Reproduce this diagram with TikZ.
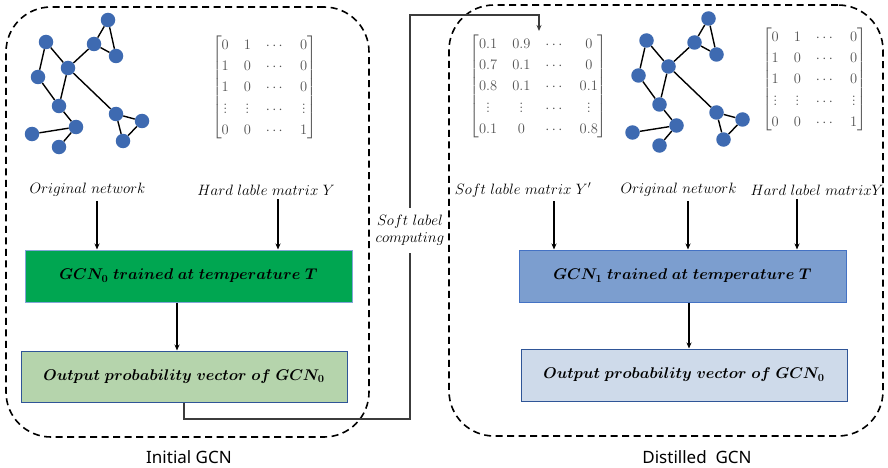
\RequirePackage{fix-cm}
\documentclass[tikz,border=0pt]{standalone}
\usepackage{amsmath}
\usepackage{bm}
\usepackage{fontspec}
\setsansfont{Noto Sans}
\usetikzlibrary{arrows.meta}

\definecolor{netblue}{RGB}{62,106,177}
\definecolor{gcngreen}{RGB}{0,166,81}
\definecolor{outgreen}{RGB}{181,212,172}
\definecolor{gcnblue}{RGB}{124,158,207}
\definecolor{outblue}{RGB}{206,218,234}
\definecolor{darkedge}{RGB}{47,85,151}
\definecolor{midedge}{RGB}{68,114,196}
\definecolor{lightedge}{RGB}{130,165,215}
\definecolor{linkgray}{RGB}{60,60,60}

\tikzset{
  vert/.style={circle, fill=netblue, draw=none, minimum size=14.5pt, inner sep=0pt},
  gedge/.style={line width=1.4pt, black},
  netgraph/.pic={
    \foreach \n/\x/\y in {a/46/42, b/108/20, c/94/44, d/116/56, e/68/68,
                          f/38/77, g/59/106, h/116/114, i/142/121, j/123/141,
                          k/76/127, l/32/134, m/59/147}
      \node[vert] (-\n) at (\x,\y) {};
    \foreach \p/\q in {a/f, a/e, e/c, c/b, b/d, c/d, e/g, f/g, g/k, k/l, k/m,
                       e/h, h/i, h/j, i/j}
      \draw[gedge] (-\p) -- (-\q);
  },
  group/.style={draw=black, line width=1.6pt, dash pattern=on 7pt off 4.5pt,
                rounded corners=45pt, inner sep=0pt},
  grouptitle/.style={font=\sffamily\fontsize{17}{20}\selectfont, inner sep=0pt},
  lab/.style={font=\fontsize{15}{17}\selectfont, inner sep=2pt},
  mat/.style={inner sep=0pt, text=black!68,
              font=\fontsize{14.5}{17.4}\selectfont\setlength\arraycolsep{7.5pt}\renewcommand\arraystretch{1.22}},
  box/.style={minimum width=327pt, minimum height=52pt, inner sep=0pt, line width=1pt,
              font=\fontsize{15.5}{18}\selectfont},
  arr/.style={line width=1.5pt, -{Stealth[length=6pt, width=5pt]}},
  link/.style={line width=1.1pt, linkgray},
}

\begin{document}
\begin{tikzpicture}[x=1pt, y=-1pt]
  \useasboundingbox (0,0) rectangle (888,468);

  % dashed containers and their titles
  \node[group, minimum width=363pt, minimum height=430pt] (initg) at (187.5,222) {};
  \node[group, minimum width=434pt, minimum height=431pt] (distg) at (666,220.5) {};
  \node[grouptitle] (initt) at (189,457) {Initial GCN};
  \node[grouptitle] (distt) at (697,457) {Distilled\ \ GCN};

  % networks
  \pic (gl) at (0,0) {netgraph};
  \pic (gr) at (600.5,-1.5) {netgraph};

  % label matrices
  \node[mat] (hardL) at (264.5,87.5) {$\begin{bmatrix}
      0 & 1 & \cdots & 0\\ 1 & 0 & \cdots & 0\\ 1 & 0 & \cdots & 0\\
      \vdots & \vdots & \cdots & \vdots\\ 0 & 0 & \cdots & 1\end{bmatrix}$};
  \node[mat] (hardR) at (814.5,79.5) {$\begin{bmatrix}
      0 & 1 & \cdots & 0\\ 1 & 0 & \cdots & 0\\ 1 & 0 & \cdots & 0\\
      \vdots & \vdots & \cdots & \vdots\\ 0 & 0 & \cdots & 1\end{bmatrix}$};
  \node[mat] (softM) at (538.5,86.5) {$\begin{bmatrix}
      0.1 & 0.9 & \cdots & 0\\ 0.7 & 0.1 & \cdots & 0\\ 0.8 & 0.1 & \cdots & 0.1\\
      \vdots & \vdots & \cdots & \vdots\\ 0.1 & 0 & \cdots & 0.8\end{bmatrix}$};

  % input captions
  \node[lab] (L1) at (87.5,190) {$Original\ network$};
  \node[lab] (L2) at (266,190) {$Hard\ lable\ matrix\ Y$};
  \node[lab] (R1) at (523,190) {$Soft\ lable\ matrix\ Y'$};
  \node[lab] (R2) at (678.5,190) {$Original\ network$};
  \node[lab] (R3) at (817,190) {$Hard\ label\ matrixY$};

  % model boxes
  \node[box, fill=gcngreen, draw=lightedge] (gcn0) at (188.5,276)
       {$\bm{GCN_0\ trained\ at\ temperature\ T}$};
  \node[box, fill=outgreen, draw=darkedge, minimum width=326pt, minimum height=51pt] (out0) at (184,376.5)
       {$\bm{Output\ probability\ vector\ of\ GCN_0}$};
  \node[box, fill=gcnblue, draw=midedge] (gcn1) at (682.5,276)
       {$\bm{GCN_1\ trained\ at\ temperature\ T}$};
  \node[box, fill=outblue, draw=darkedge, minimum width=326pt] (out1) at (684,375)
       {$\bm{Output\ probability\ vector\ of\ GCN_0}$};

  % arrows into the models
  \path (L1.south) ++(9.5,2) coordinate (a1);
  \path (L2.south) ++(12,2) coordinate (a2);
  \path (R1.south) ++(31,2) coordinate (a3);
  \path (R2.south) ++(9.5,2) coordinate (a4);
  \path (R3.south) ++(-20,2) coordinate (a5);
  \draw[arr] (a1) -- (a1 |- gcn0.north);
  \draw[arr] (a2) -- (a2 |- gcn0.north);
  \draw[arr] (a3) -- (a3 |- gcn1.north);
  \draw[arr] (a4) -- (a4 |- gcn1.north);
  \draw[arr] (a5) -- (a5 |- gcn1.north);

  \path (gcn0.south) ++(-11.5,0) coordinate (b1);
  \path (gcn1.south) ++(6.5,0) coordinate (b2);
  \draw[arr] (b1) -- (b1 |- out0.north);
  \draw[arr] (b2) -- (b2 |- out1.north);

  % soft label computing link
  \node[lab, align=center, inner xsep=0pt, inner ysep=7.5pt] (soft) at (410,230.5)
       {$Soft\ label$\\$computing$};
  \coordinate (bend) at (410,419);
  \coordinate (top) at (410,15);
  \coordinate (sin) at (539,31);
  \draw[link] (out0.south) |- (bend) -- (soft.south);
  \draw[link, -{Stealth[length=6pt, width=5pt]}] (soft.north) -- (top) -| (sin);
\end{tikzpicture}
\end{document}
